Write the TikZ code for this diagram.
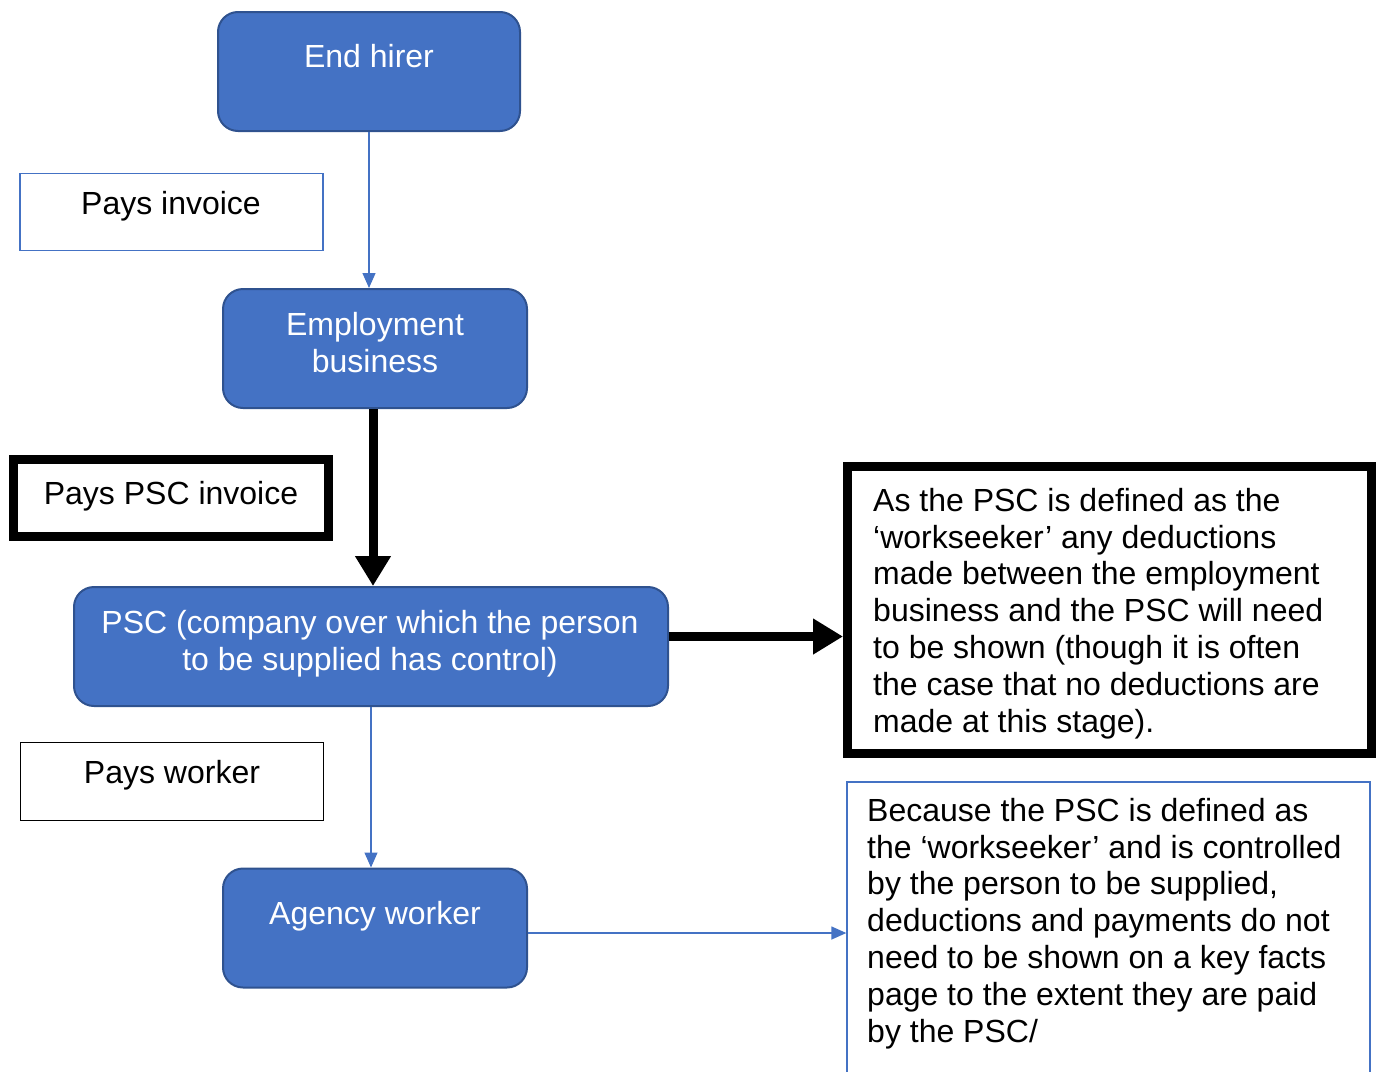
\documentclass[tikz,border=0pt]{standalone}
\usepackage{fontspec}
\setmainfont{Liberation Sans}
\usetikzlibrary{arrows.meta}
\definecolor{boxblue}{HTML}{4472C4}
\definecolor{edgeblue}{HTML}{2F528F}
\begin{document}
\begin{tikzpicture}
[
x=1pt, y=-1pt,
every node/.style={font=\fontsize{32}{36.8}\selectfont},
partybox/.style={rectangle, rounded corners=20pt, fill=boxblue, draw=edgeblue, line width=2pt, minimum height=119pt},
partytext/.style={text=white, align=center, anchor=base, inner sep=0},
paybox/.style={rectangle, draw=black, line width=1pt, minimum width=303pt, minimum height=77pt},
heavybox/.style={rectangle, draw=black, line width=9pt},
plaintext/.style={align=center, anchor=base, inner sep=0},
notetext/.style={align=left, anchor=base west, inner sep=0},
thinflow/.style={draw=boxblue, line width=1.3pt, -{Triangle[length=15pt,width=13pt]}},
heavyflow/.style={draw=black, line width=9pt, -{Triangle[length=30pt,width=34pt]}}
]
\useasboundingbox (0,0) rectangle (1381,1071);
%Boxes
\node[partybox, minimum width=302pt] at(369,71.5)	(hirer) {};
\node[partybox, minimum width=304pt] at(375,348.5)	(empbus) {};
\node[partybox, minimum width=594pt] at(371,646.5)	(psc) {};
\node[partybox, minimum width=304pt] at(375,928)	(agency) {};
\node[paybox, draw=boxblue, line width=1.3pt] at(171.5,212)	(paysinv) {};
\node[heavybox, minimum width=315pt, minimum height=77pt] at(171,498)	(payspsc) {};
\node[paybox, minimum height=78pt] at(171.5,781)	(payswork) {};
\node[heavybox, minimum width=524pt, minimum height=287pt] at(1109.5,610)	(note1) {};
\node[rectangle, draw=boxblue, line width=1.3pt, minimum width=523pt, minimum height=320pt] at(1108.5,942)	(note2) {};
%Texts (multi-line ones sit on their last baseline)
\node[partytext]	(hirer-t) at(369,67) {End hirer};
\node[partytext]	(empbus-t) at(375,372) {Employment\\business};
\node[partytext]	(psc-t) at(370,670) {PSC (company over which the person\\to be supplied has control)};
\node[partytext]	(agency-t) at(375,924) {Agency worker};
\node[plaintext]	(paysinv-t) at(171,214) {Pays invoice};
\node[plaintext]	(payspsc-t) at(171,504) {Pays PSC invoice};
\node[plaintext]	(payswork-t) at(172,783) {Pays worker};
\node[notetext]	(note1-t) at(873,732) {As the PSC is defined as the\\‘workseeker’ any deductions\\made between the employment\\business and the PSC will need\\to be shown (though it is often\\the case that no deductions are\\made at this stage).};
\node[notetext]	(note2-t) at(867,1042) {Because the PSC is defined as\\the ‘workseeker’ and is controlled\\by the person to be supplied,\\deductions and payments do not\\need to be shown on a key facts\\page to the extent they are paid\\by the PSC/};
%Arrows
\draw[thinflow] (hirer.south) -- (hirer.south |- empbus.north);
\draw[heavyflow] ([xshift=-2pt]empbus.south) -- ([xshift=-2pt]empbus.south |- psc.north);
\draw[heavyflow] ([yshift=10pt]psc.east) -- ([yshift=10pt]psc.east -| note1.west);
\draw[thinflow] (psc.south) -- (psc.south |- agency.north);
\draw[thinflow] ([yshift=-5pt]agency.east) -- ([yshift=-5pt]agency.east -| note2.west);
\end{tikzpicture}
\end{document}
